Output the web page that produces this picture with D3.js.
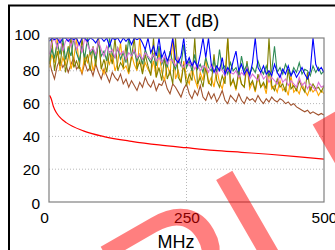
<!DOCTYPE html>
<html>
<head>
<meta charset="utf-8">
<script src="https://cdn.jsdelivr.net/npm/d3@7"></script>
<style>
  body { margin: 0; background: #fff; }
  svg { display: block; font-family: "Liberation Sans", Arial, sans-serif; }
</style>
</head>
<body>
<div id="chart"></div>
<script>
// frequency points (MHz) of the measured pairs
const freqs = [1, 5, 10, 15, 20, 25, 30, 35, 40, 45, 50, 55, 60, 65, 70, 75, 80, 85, 90, 95,
  100, 105, 110, 115, 120, 125, 130, 135, 140, 145, 150, 155, 160, 165, 170, 175, 180,
  185, 190, 195, 200, 205, 210, 215, 220, 225, 230, 235, 240, 245, 250, 255, 260, 265, 270,
  275, 280, 285, 290, 295, 300, 305, 310, 315, 320, 325, 330, 335, 340, 345, 350, 355, 360,
  365, 370, 375, 380, 385, 390, 395, 400, 405, 410, 415, 420, 425, 430, 435, 440, 445, 450,
  455, 460, 465, 470, 475, 480, 485, 490, 495, 500];

// NEXT per pair (dB)
const pairBlue = [98, 100, 99, 100, 97, 100, 100, 98, 100, 99, 100, 96, 100, 100, 98, 100, 99, 97, 100, 100,
  98, 100, 95, 100, 99, 100, 97, 100, 98, 100, 96, 100, 99, 100, 97, 93, 100,
  91, 95, 89, 100, 88, 92, 86, 90, 100, 87, 85, 89, 100, 84, 88, 83, 86, 82, 90, 100,
  88, 100, 84, 79, 83, 80, 88, 78, 82, 79, 86, 92, 80, 84, 78, 81, 77, 85, 100, 82,
  79, 83, 78, 80, 77, 84, 79, 76, 81, 78, 83, 77, 80, 76, 79, 82, 78, 75, 80, 100, 84, 80, 82, 79];
const pairGreen = [86, 93, 88, 97, 90, 100, 87, 94, 89, 100, 91, 86, 95, 88, 100, 90, 93, 87, 98, 89,
  92, 86, 100, 90, 88, 94, 87, 91, 85, 100, 89, 92, 86, 90, 84, 93, 88,
  85, 90, 83, 95, 84, 88, 82, 92, 85, 81, 87, 83, 96, 82, 86, 80, 90, 81, 84, 79,
  88, 82, 80, 86, 79, 93, 81, 83, 78, 85, 80, 82, 77, 89, 80, 84, 78, 82, 79, 86,
  81, 78, 83, 77, 80, 95, 79, 82, 78, 84, 80, 77, 82, 79, 85, 78, 81, 80, 77, 83, 79, 82, 78, 80];
const pairOlive = [84, 100, 80, 92, 83, 97, 79, 88, 100, 82, 86, 81, 100, 84, 90, 80, 95, 83, 100, 81,
  87, 79, 92, 84, 100, 80, 85, 82, 96, 79, 88, 100, 81, 86, 78, 90, 83,
  77, 100, 76, 82, 74, 88, 75, 80, 72, 100, 76, 73, 84, 71, 78, 74, 100, 72, 76, 70,
  82, 73, 71, 90, 74, 70, 77, 72, 100, 71, 75, 69, 80, 72, 70, 86, 71, 74, 68, 78,
  70, 73, 69, 100, 71, 68, 75, 70, 72, 67, 81, 69, 71, 68, 74, 70, 67, 79, 68, 72, 69, 70, 67, 71];
const pairOrange = [82, 90, 85, 100, 80, 88, 84, 95, 81, 87, 100, 83, 79, 89, 85, 92, 80, 86, 100, 82,
  78, 88, 84, 91, 80, 85, 97, 81, 83, 78, 90, 84, 80, 100, 79, 85, 81,
  78, 86, 76, 92, 79, 74, 84, 77, 100, 75, 80, 73, 86, 76, 72, 82, 75, 70, 79, 74,
  88, 72, 76, 70, 81, 73, 69, 77, 100, 71, 74, 68, 78, 72, 70, 83, 69, 73, 67, 76,
  70, 72, 66, 80, 69, 71, 67, 74, 68, 70, 65, 77, 67, 69, 66, 72, 68, 65, 70, 67, 69, 65, 68, 66];
const pairBrown = [86, 80, 75, 83, 87, 82, 85, 79, 84, 88, 81, 83, 78, 85, 80, 82, 77, 84, 79, 75,
  81, 77, 73, 79, 76, 74, 78, 72, 75, 70, 74, 71, 68, 73, 70, 76, 72,
  70, 74, 68, 72, 71, 75, 69, 66, 72, 70, 67, 64, 69, 72, 66, 63, 68, 65, 71, 64,
  62, 67, 63, 66, 61, 64, 68, 62, 60, 65, 63, 61, 66, 62, 60, 64, 62, 63, 61, 65,
  62, 60, 63, 61, 64, 62, 61, 63, 62, 60, 61, 59, 60, 58, 57, 56, 55, 56, 54, 55, 54, 53, 54, 53];
const pairPink = [90, 97, 100, 94, 100, 92, 98, 100, 95, 100, 93, 97, 91, 100, 96, 92, 94, 90, 98, 93,
  89, 95, 91, 93, 88, 94, 90, 92, 87, 91, 89, 93, 88, 90, 87, 91, 89,
  87, 90, 86, 88, 85, 89, 84, 87, 86, 83, 88, 84, 82, 86, 83, 85, 81, 84, 80, 83,
  82, 79, 84, 81, 78, 82, 80, 77, 81, 79, 78, 80, 76, 79, 77, 82, 75, 78, 76, 74,
  79, 75, 77, 73, 76, 74, 72, 78, 73, 75, 71, 74, 72, 70, 76, 71, 73, 69, 72, 70, 68, 73, 70, 71];

// limit line
const limitFreqs = [1, 4, 8, 10, 16, 20, 25, 31.25, 62.5, 100, 150, 200, 250, 300, 350, 400, 450, 500];
const limitVals = [65, 63, 58.2, 56.6, 53.2, 51.6, 50, 48.4, 43.4, 39.9, 37, 34.8, 33.1, 31.5, 30.3, 29.1, 27.7, 26.1];

const yTicks = [0, 20, 40, 60, 80, 100];
const xTicks = [0, 250, 500];

const width = 335, height = 250;
const margin = { left: 49, top: 38, right: 11, bottom: 48 };
const innerW = width - margin.left - margin.right;
const innerH = height - margin.top - margin.bottom;

const svg = d3.select("#chart").append("svg")
    .attr("width", width)
    .attr("height", height);

// outer frame of the report box
svg.append("rect")
    .attr("x", 9).attr("y", 5.5)
    .attr("width", 400).attr("height", 400)
    .attr("fill", "none")
    .attr("stroke", "#000")
    .attr("stroke-width", 2);

const x = d3.scaleLinear().domain([0, 500]).range([0, innerW]);
const y = d3.scaleLinear().domain([0, 100]).range([innerH, 0]);

const g = svg.append("g").attr("transform", `translate(${margin.left},${margin.top})`);

g.append("clipPath").attr("id", "plot-clip")
  .append("rect").attr("width", innerW).attr("height", innerH);

// grid lines
g.selectAll("line.hgrid")
  .data(yTicks.filter(d => d > 0 && d < 100))
  .join("line")
    .attr("class", "hgrid")
    .attr("x1", 0).attr("x2", innerW)
    .attr("y1", d => y(d)).attr("y2", d => y(d))
    .attr("stroke", "#b8b8b8")
    .attr("stroke-dasharray", "1,2");

g.selectAll("line.vgrid")
  .data(xTicks.filter(d => d > 0 && d < 500))
  .join("line")
    .attr("class", "vgrid")
    .attr("x1", d => x(d)).attr("x2", d => x(d))
    .attr("y1", 0).attr("y2", innerH)
    .attr("stroke", "#b8b8b8")
    .attr("stroke-dasharray", "1,2");

// measured pairs
const series = [
  { vals: pairBrown, color: "#a0522d" },
  { vals: pairOrange, color: "#ffa500" },
  { vals: pairOlive, color: "#808000" },
  { vals: pairGreen, color: "#2e8b57" },
  { vals: pairPink, color: "#da70d6" },
  { vals: pairBlue, color: "#0000ff" }
];

const line = d3.line()
    .x((d, i) => x(freqs[i]))
    .y(d => y(d));

const plot = g.append("g").attr("clip-path", "url(#plot-clip)");

plot.selectAll("path.pair")
  .data(series)
  .join("path")
    .attr("class", "pair")
    .attr("d", d => line(d.vals))
    .attr("fill", "none")
    .attr("stroke", d => d.color)
    .attr("stroke-width", 1.1);

// limit
const limitLine = d3.line()
    .x((d, i) => x(limitFreqs[i]))
    .y(d => y(d))
    .curve(d3.curveMonotoneX);

plot.append("path")
    .attr("d", limitLine(limitVals))
    .attr("fill", "none")
    .attr("stroke", "#ff0000")
    .attr("stroke-width", 1.2);

// plot border
g.append("rect")
    .attr("width", innerW).attr("height", innerH)
    .attr("fill", "none")
    .attr("stroke", "#808080")
    .attr("stroke-width", 1.2);

// axes
const yAxis = g.append("g")
    .call(d3.axisLeft(y).tickValues(yTicks).tickSize(0).tickPadding(9));
yAxis.select(".domain").remove();
yAxis.selectAll("text")
    .attr("font-size", 15.5)
    .attr("font-family", "Liberation Sans, Arial, sans-serif")
    .attr("fill", "#000")
    .attr("dy", d => d === 100 ? "0.1em" : d === 0 ? "0.42em" : "0.33em");

const xAxis = g.append("g")
    .attr("transform", `translate(0,${innerH})`)
    .call(d3.axisBottom(x).tickValues(xTicks).tickSize(0).tickPadding(10));
xAxis.select(".domain").remove();
xAxis.selectAll("text")
    .attr("font-size", 15.5)
    .attr("font-family", "Liberation Sans, Arial, sans-serif")
    .attr("fill", "#000")
    .attr("dx", d => d === 0 ? -5 : 0);

// titles
svg.append("text")
    .attr("x", 176).attr("y", 27)
    .attr("text-anchor", "middle")
    .attr("font-size", 18)
    .text("NEXT (dB)");

svg.append("text")
    .attr("x", 176).attr("y", 247.5)
    .attr("text-anchor", "middle")
    .attr("font-size", 18)
    .text("MHz");

// watermark
svg.append("text")
    .attr("transform", "translate(-220,591) rotate(-30)")
    .attr("font-size", 200)
    .attr("fill", "#ff0000")
    .attr("fill-opacity", 0.5)
    .text("SAMPLE");
</script>
</body>
</html>
